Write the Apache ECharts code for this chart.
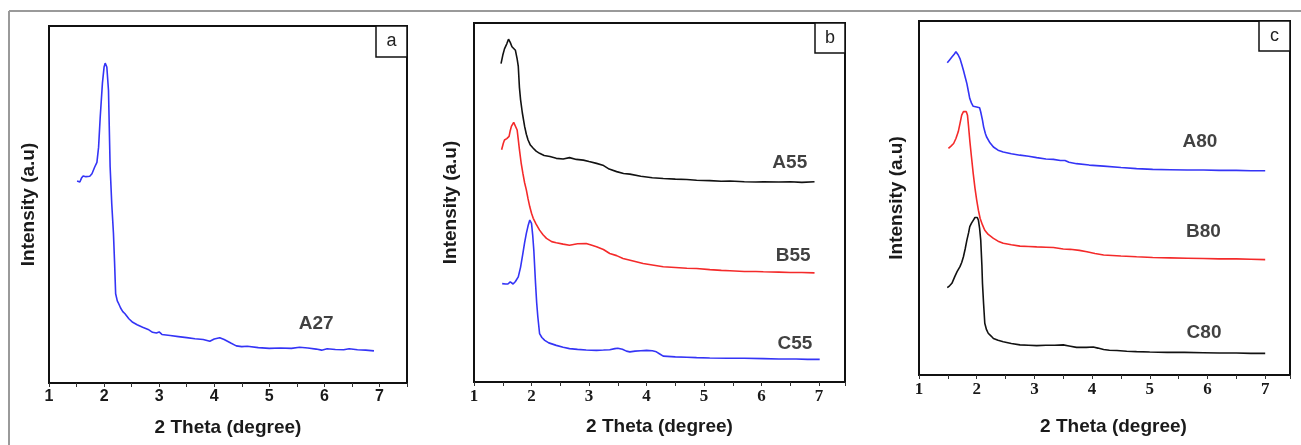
<!DOCTYPE html>
<html><head><meta charset="utf-8">
<script src="https://cdn.jsdelivr.net/npm/echarts@6/dist/echarts.min.js"></script>
<style>html,body{margin:0;padding:0;background:#fff}#c{width:1301px;height:445px}</style>
</head><body><div id="c"></div><script>
// ---- data (2 Theta in degrees, intensity in arbitrary units 0-100) ----
const xTicks = [1, 2, 3, 4, 5, 6, 7];
const panelNames = ['a', 'b', 'c'];
const xTitle = '2 Theta (degree)';
const yTitle = 'Intensity (a.u)';

const A27 = [[1.51,56.6],[1.54,56.1],[1.56,56.3],[1.59,57.4],[1.62,58],[1.67,57.8],[1.7,58.1],[1.74,57.9],[1.78,58.6],[1.83,60.5],[1.87,61.8],[1.9,66],[1.93,74.5],[1.97,84],[2.0,88.5],[2.02,89.6],[2.05,88.5],[2.08,82],[2.11,60.5],[2.14,50],[2.17,42],[2.19,34],[2.21,25],[2.24,23],[2.26,22.4],[2.3,21],[2.34,20],[2.38,19.4],[2.45,18],[2.52,17],[2.6,16.3],[2.7,15.6],[2.8,15],[2.88,14.2],[2.95,14],[3.0,14.3],[3.05,13.6],[3.2,13.3],[3.35,13],[3.5,12.7],[3.65,12.4],[3.8,12.2],[3.92,11.7],[4.0,12.3],[4.1,12.7],[4.18,12.2],[4.3,11.2],[4.4,10.4],[4.5,10.2],[4.6,10.3],[4.8,9.9],[5.0,9.7],[5.2,9.8],[5.4,9.7],[5.55,10],[5.7,9.8],[5.85,9.5],[5.95,9.2],[6.05,9.6],[6.2,9.4],[6.35,9.3],[6.45,9.6],[6.6,9.3],[6.75,9.2],[6.9,9.0]];

const A55 = [[1.47,88.7],[1.5,91],[1.53,92.8],[1.57,94.2],[1.6,95.5],[1.63,94.6],[1.66,93.4],[1.69,93.2],[1.72,92.4],[1.75,90],[1.77,87.9],[1.79,82],[1.81,78.6],[1.84,75],[1.88,71.2],[1.91,69],[1.94,67.4],[1.98,66],[2.03,65.1],[2.08,64.3],[2.14,63.7],[2.22,63.1],[2.32,62.8],[2.43,62.3],[2.55,62.1],[2.66,62.5],[2.78,62],[2.9,61.8],[3.0,61.4],[3.13,60.9],[3.24,60.4],[3.35,59.3],[3.48,58.6],[3.6,58.1],[3.71,57.9],[3.9,57.3],[4.1,56.9],[4.29,56.7],[4.5,56.5],[4.7,56.4],[4.87,56.2],[5.1,56.1],[5.3,55.9],[5.45,56],[5.7,55.8],[5.9,55.7],[6.03,55.8],[6.3,55.7],[6.5,55.8],[6.7,55.6],[6.92,55.8]];
const B55 = [[1.48,64.7],[1.51,66.5],[1.53,67.4],[1.57,67.8],[1.61,68.4],[1.63,70],[1.65,71.2],[1.69,72.3],[1.72,71.8],[1.75,70.2],[1.77,67.5],[1.79,64.7],[1.82,61],[1.85,58.1],[1.88,55.5],[1.91,53.5],[1.94,51],[1.97,48.8],[2.0,47],[2.03,45.6],[2.08,44],[2.14,42.3],[2.2,41],[2.26,40],[2.35,39.1],[2.43,38.8],[2.55,38.4],[2.66,38.1],[2.8,38.5],[2.95,38.6],[3.05,38.1],[3.13,37.7],[3.25,36.9],[3.36,35.8],[3.48,35.2],[3.59,34.4],[3.75,33.8],[3.94,33],[4.1,32.6],[4.29,32.1],[4.5,31.9],[4.7,31.7],[4.87,31.6],[5.1,31.3],[5.3,31.1],[5.45,31],[5.7,30.8],[5.9,30.8],[6.03,30.7],[6.3,30.6],[6.5,30.5],[6.7,30.5],[6.92,30.4]];
const C55 = [[1.49,27.4],[1.55,27.3],[1.59,27.3],[1.63,27.9],[1.66,27.4],[1.68,27.3],[1.72,28],[1.77,29.3],[1.81,32],[1.85,35.8],[1.88,38.8],[1.91,41.4],[1.94,43.5],[1.97,45.1],[2.0,44.2],[2.02,41],[2.04,36.7],[2.07,27.4],[2.09,22],[2.11,18.1],[2.14,13.5],[2.18,12.4],[2.23,11.6],[2.3,10.9],[2.43,10.2],[2.55,9.7],[2.66,9.3],[2.8,9.1],[2.95,8.9],[3.13,8.8],[3.25,8.9],[3.36,9.0],[3.45,9.3],[3.5,9.4],[3.58,9.1],[3.65,8.6],[3.71,8.4],[3.8,8.6],[3.9,8.7],[4.0,8.8],[4.1,8.7],[4.17,8.4],[4.23,7.8],[4.29,7.2],[4.5,7.0],[4.7,6.9],[4.87,6.8],[5.1,6.7],[5.4,6.6],[5.7,6.6],[6.03,6.5],[6.3,6.4],[6.6,6.4],[6.8,6.3],[7.01,6.3]];

const A80 = [[1.49,88.2],[1.53,89],[1.57,89.8],[1.61,90.6],[1.64,91.3],[1.66,91.4],[1.68,90.4],[1.71,89.4],[1.74,87.8],[1.77,86.1],[1.8,84.2],[1.83,82.3],[1.86,79.8],[1.88,78.1],[1.91,76.8],[1.94,75.9],[1.97,75.8],[2.0,75.7],[2.03,76.2],[2.05,75.5],[2.07,74.3],[2.1,72],[2.12,70.1],[2.15,68.2],[2.17,67.3],[2.23,65.6],[2.29,64.4],[2.37,63.5],[2.46,63],[2.6,62.5],[2.75,62.1],[2.9,61.8],[3.04,61.4],[3.2,61],[3.33,60.9],[3.45,60.6],[3.53,60.6],[3.6,60.1],[3.73,59.7],[3.95,59.3],[4.2,59],[4.5,58.6],[4.77,58.3],[5.05,58.1],[5.35,58],[5.65,57.9],[5.93,57.9],[6.2,57.8],[6.5,57.8],[6.75,57.7],[7.0,57.7]];
const B80 = [[1.51,64],[1.55,64.6],[1.6,65.4],[1.64,66.8],[1.68,68.7],[1.71,71],[1.74,73.4],[1.77,74.4],[1.8,74.8],[1.82,74.4],[1.84,73.4],[1.86,70],[1.88,66.3],[1.91,61.5],[1.94,56.9],[1.97,52.8],[2.0,49.4],[2.03,46.5],[2.06,44.2],[2.1,42.4],[2.14,40.9],[2.2,39.7],[2.29,38.6],[2.37,37.8],[2.46,37.2],[2.6,36.8],[2.75,36.4],[2.9,36.3],[3.04,36.2],[3.2,36.1],[3.33,36],[3.5,35.6],[3.62,35.5],[3.78,35.2],[3.91,34.8],[4.05,34.3],[4.2,33.9],[4.5,33.6],[4.77,33.4],[5.05,33.2],[5.35,33.1],[5.65,33],[5.93,32.9],[6.2,32.8],[6.5,32.8],[6.75,32.7],[7.0,32.6]];
const C80 = [[1.49,24.7],[1.53,25.2],[1.57,25.9],[1.62,27.8],[1.66,29.2],[1.71,30.6],[1.74,31.8],[1.77,33.4],[1.8,35.6],[1.83,38.1],[1.86,40.2],[1.88,41.9],[1.91,42.9],[1.94,43.7],[1.97,44.5],[1.99,44.9],[2.01,44.5],[2.03,43.7],[2.05,41.5],[2.07,38.1],[2.09,31],[2.1,25.9],[2.12,20],[2.14,14.6],[2.17,12.8],[2.2,11.8],[2.25,11],[2.29,10.3],[2.37,9.8],[2.46,9.4],[2.6,8.9],[2.75,8.5],[2.9,8.4],[3.04,8.3],[3.2,8.4],[3.35,8.4],[3.5,8.5],[3.6,8.2],[3.73,7.8],[3.9,7.8],[4.02,7.9],[4.1,7.6],[4.2,7.2],[4.3,7.0],[4.43,6.9],[4.6,6.7],[4.77,6.6],[5.0,6.5],[5.3,6.4],[5.6,6.4],[5.93,6.3],[6.2,6.2],[6.5,6.2],[6.75,6.1],[7.0,6.1]];

// label anchors, data coordinates
const labelsA = [{name:'A27', value:[5.85,16.5]}];
const labelsB = [{name:'A55', value:[6.49,61.1]},{name:'B55', value:[6.55,35.1]},{name:'C55', value:[6.58,10.7]}];
const labelsC = [{name:'A80', value:[5.87,65.9]},{name:'B80', value:[5.93,40.5]},{name:'C80', value:[5.94,11.8]}];

// ---- chart ----
const BLUE = '#3434f6', RED = '#f42a2a', BLACK = '#121212';
const chart = echarts.init(document.getElementById('c'), null, {renderer:'canvas'});

const grids = [
  {left:49, top:26, width:358, height:357},
  {left:474, top:23, width:371, height:359},
  {left:919, top:21, width:371, height:354}
];
const xMax = [7.5, 7.45, 7.43];
const tickFont = ['Liberation Sans', 'Liberation Serif', 'Liberation Serif'];
const tickSize = [16, 17, 17];
const yNameGap = [11, 14, 13];
const xNameGap = [35, 35, 42];

const xAxes = grids.map((g, i) => ({
  type:'value', gridIndex:i, min:1, max:xMax[i], interval:0.5,
  axisLine:{show:true, onZero:false, lineStyle:{color:'#111', width:2}},
  axisTick:{show:true, inside:false, length:4, lineStyle:{color:'#333', width:1}},
  axisLabel:{show:true, margin:6, color:'#1a1a1a', fontFamily:tickFont[i], fontWeight:'bold', fontSize:tickSize[i],
    formatter: v => (xTicks.indexOf(v) >= 0 ? String(v) : '')},
  splitLine:{show:false},
  name:xTitle, nameLocation:'middle', nameGap:xNameGap[i],
  nameTextStyle:{fontFamily:'Liberation Sans', fontWeight:'bold', fontSize:19, color:'#1a1a1a',
    padding: i === 2 ? [0,0,0,18] : 0}
}));
const yAxes = grids.map((g, i) => ({
  type:'value', gridIndex:i, min:0, max:100,
  axisLine:{show:false}, axisTick:{show:false}, axisLabel:{show:false}, splitLine:{show:false},
  name:yTitle, nameLocation:'middle', nameRotate:90, nameGap:yNameGap[i],
  nameTextStyle:{fontFamily:'Liberation Sans', fontWeight:'bold', fontSize:19, color:'#1a1a1a'}
}));

function line(data, color, idx){
  return {type:'line', xAxisIndex:idx, yAxisIndex:idx, data:data, showSymbol:false, symbol:'none',
    smooth:false, lineStyle:{color:color, width:1.6}, itemStyle:{color:color}, silent:true, animation:false};
}
function labels(data, idx){
  return {type:'scatter', xAxisIndex:idx, yAxisIndex:idx, data:data, symbolSize:1,
    itemStyle:{color:'rgba(0,0,0,0)'}, silent:true, animation:false,
    label:{show:true, position:'inside', formatter:'{b}', fontFamily:'Liberation Sans', fontWeight:'bold',
      fontSize:19, color:'#111'}};
}

const boxes = [
  {x:376, y:26, w:31, h:31},
  {x:815, y:23, w:30, h:30},
  {x:1259, y:21, w:31, h:30}
];
const graphic = [
  {type:'line', shape:{x1:9, y1:11, x2:1301, y2:11}, style:{stroke:'#9a9a9a', lineWidth:2}, silent:true},
  {type:'line', shape:{x1:9, y1:11, x2:9, y2:445}, style:{stroke:'#9a9a9a', lineWidth:2}, silent:true}
];
boxes.forEach((b, i) => {
  graphic.push({type:'rect', shape:{x:b.x, y:b.y, width:b.w, height:b.h}, style:{fill:'#fff', stroke:'#111', lineWidth:1.5}, z:10});
  graphic.push({type:'text', x:b.x + b.w/2, y:b.y + b.h/2, z:11,
    style:{text:panelNames[i], fill:'#222', font:'18px "Liberation Sans"', align:'center', verticalAlign:'middle'}});
});

chart.setOption({
  backgroundColor:'#fff',
  animation:false,
  grid: grids.map(g => Object.assign({show:true, borderColor:'#111', borderWidth:2, backgroundColor:'transparent', containLabel:false}, g)),
  xAxis: xAxes,
  yAxis: yAxes,
  graphic: graphic,
  series: [
    line(A27, BLUE, 0), labels(labelsA, 0),
    line(A55, BLACK, 1), line(B55, RED, 1), line(C55, BLUE, 1), labels(labelsB, 1),
    line(A80, BLUE, 2), line(B80, RED, 2), line(C80, BLACK, 2), labels(labelsC, 2)
  ]
});
</script></body></html>
